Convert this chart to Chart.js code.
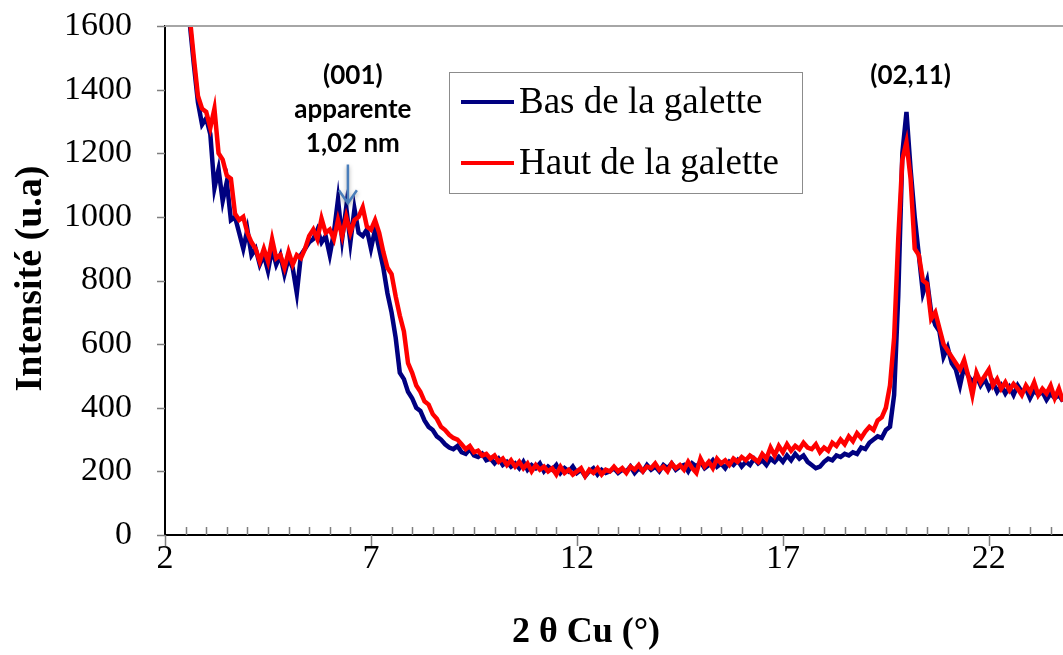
<!DOCTYPE html>
<html>
<head>
<meta charset="utf-8">
<style>
  body { margin: 0; background: #fff; }
  #wrap { width: 1063px; height: 655px; }
</style>
</head>
<body>
<div id="wrap"><canvas id="xrd" width="1063" height="655"></canvas></div>

<script src="https://cdn.jsdelivr.net/npm/chart.js"></script>

<script>
    // 2 theta from 2.5 to 23.8 deg, one reading every 0.1 deg
    var bas = [
        1760, 1610, 1480, 1360, 1290,
        1310, 1260, 1090, 1150, 1050, 1110, 990, 1000, 950, 900,
        960, 880, 900, 850, 880, 830, 900, 850, 880, 820,
        870, 840, 760, 880, 900, 920, 930, 960, 920, 940,
        880, 950, 1055, 930, 1030, 920, 1025, 950, 940, 960,
        900, 960, 900, 840, 760, 700, 620, 510, 490, 450,
        430, 400, 390, 360, 340, 330, 310, 300, 285, 275,
        270, 280, 260, 255, 270, 250, 245, 255, 235, 240,
        225, 240, 220, 230, 215, 225, 210, 230, 205, 220,
        210, 225, 200, 215, 205, 220, 195, 210, 200, 215,
        195, 205, 185, 200, 210, 190, 205, 195, 200, 210,
        195, 205, 200, 215, 195, 210, 200, 220, 205, 215,
        200, 220, 210, 225, 205, 215, 220, 200, 225, 215,
        230, 210, 220, 235, 215, 225, 210, 230, 220, 235,
        215, 230, 220, 240, 225, 235, 220, 240, 230, 245,
        230, 250, 235, 255, 240, 250, 230, 220, 210, 215,
        230, 240, 235, 250, 245, 255, 250, 260, 255, 275,
        270, 290, 300, 310, 305, 330, 340, 440, 750, 1200,
        1330, 1150, 1000, 880, 760, 800, 700, 660, 640, 560,
        590, 540, 520, 470, 530, 500, 480, 500, 470, 490,
        460, 480, 450, 470, 445, 465, 440, 470, 450, 460,
        430, 455, 440, 450, 425, 445, 430, 440, 420
    ];
    var haut = [
        1780, 1630, 1500, 1380, 1340,
        1330, 1280, 1340, 1200, 1180, 1130, 1120, 1010, 990, 1000,
        950, 920, 900, 860, 900, 860, 930, 870, 880, 840,
        890, 850, 880, 870, 900, 940, 960, 930, 995, 950,
        960, 930, 990, 940, 1000, 950, 990, 1000, 1030, 970,
        960, 990, 950, 890, 840, 820, 750, 690, 640, 540,
        510, 470, 450, 420, 410, 380, 365, 340, 330, 315,
        305, 300, 285, 270, 280, 260, 265, 250, 255, 240,
        250, 230, 240, 220, 235, 215, 230, 210, 225, 200,
        220, 205, 215, 200, 210, 190, 215, 195, 205, 190,
        200, 210, 185, 205, 195, 210, 190, 205, 200, 215,
        200, 210, 195, 215, 205, 220, 200, 215, 210, 225,
        205, 215, 200, 225, 210, 220, 205, 230, 210, 195,
        240, 215, 230, 210, 240, 225, 235, 220, 240, 230,
        245, 235, 250, 240, 230, 255, 240, 275, 250, 280,
        260, 285, 265, 280, 270, 290, 275, 270, 285, 260,
        275, 265, 290, 280, 300, 285, 310, 295, 320, 305,
        325, 340, 330, 360, 370, 400, 470, 620, 930, 1180,
        1235, 1120, 900, 880, 800, 790, 680, 700, 650, 600,
        580, 560, 540, 520, 550, 500, 440, 510, 480, 500,
        520, 470, 490, 460, 480, 455, 475, 460, 440, 470,
        450, 480, 440, 460, 445, 470, 430, 460, 420
    ];
    var seriesNames = ['Bas de la galette', 'Haut de la galette'];
    var seriesColors = ['#000080', '#ff0000'];
    var xTicks = [2, 7, 12, 17, 22];
    var yTicks = [0, 200, 400, 600, 800, 1000, 1200, 1400, 1600];

    function toPoints(vals) {
        return vals.map((v, i) => ({ x: (25 + i) / 10, y: v }));
    }

    var serif = '"Liberation Serif", "Times New Roman", serif';
    var sans = 'Lato, "Open Sans", sans-serif';

    var decor = {
        id: 'decor',
        afterDraw(chart) {
            const ctx = chart.ctx;
            const a = chart.chartArea;
            const xs = chart.scales.x, ys = chart.scales.y;
            ctx.save();

            // top frame line
            ctx.strokeStyle = '#a6a6a6';
            ctx.lineWidth = 2;
            ctx.beginPath();
            ctx.moveTo(a.left, a.top);
            ctx.lineTo(a.right, a.top);
            ctx.stroke();

            // tick marks
            ctx.strokeStyle = '#7f7f7f';
            ctx.lineWidth = 1.5;
            ctx.beginPath();
            yTicks.forEach(v => {
                const py = Math.round(ys.getPixelForValue(v)) + 0.5;
                ctx.moveTo(a.left - 8, py);
                ctx.lineTo(a.left, py);
            });
            xTicks.forEach(v => {
                const px = Math.round(xs.getPixelForValue(v)) + 0.5;
                ctx.moveTo(px, a.bottom);
                ctx.lineTo(px, a.bottom + 11);
            });
            for (let k = 4; k <= 47; k++) {
                const v = k / 2;
                if (xTicks.indexOf(v) >= 0) continue;
                const px = Math.round(xs.getPixelForValue(v)) + 0.5;
                if (px > a.right) break;
                ctx.moveTo(px, a.bottom - 8);
                ctx.lineTo(px, a.bottom);
            }
            ctx.stroke();

            // axis titles
            ctx.fillStyle = '#000';
            ctx.textAlign = 'center';
            ctx.textBaseline = 'middle';
            ctx.font = 'bold 36px ' + serif;
            ctx.fillText('2 θ Cu (°)', 586, 633);
            ctx.save();
            ctx.translate(31, (a.top + a.bottom) / 2 - 2);
            ctx.rotate(-Math.PI / 2);
            ctx.font = 'bold 38px ' + serif;
            ctx.fillText('Intensité (u.a)', 0, 0);
            ctx.restore();

            // peak labels
            ctx.font = 'bold 26px ' + sans;
            const lx = xs.getPixelForValue(6.56);
            ctx.fillText('(001)', lx, ys.getPixelForValue(1443));
            ctx.fillText('apparente', lx, ys.getPixelForValue(1336));
            ctx.fillText('1,02 nm', lx, ys.getPixelForValue(1229));
            ctx.fillText('(02,11)', xs.getPixelForValue(20.1), ys.getPixelForValue(1443));

            // arrow on the (001) hump
            const ax = xs.getPixelForValue(6.44);
            const ay1 = ys.getPixelForValue(1165), ay2 = ys.getPixelForValue(1043);
            ctx.save();
            ctx.strokeStyle = '#4a7ebb';
            ctx.lineWidth = 2.5;
            ctx.shadowColor = 'rgba(0,0,0,0.35)';
            ctx.shadowBlur = 4;
            ctx.shadowOffsetY = 2;
            ctx.beginPath();
            ctx.moveTo(ax, ay1);
            ctx.lineTo(ax, ay2);
            ctx.moveTo(ax - 9, ay2 - 13);
            ctx.lineTo(ax, ay2);
            ctx.lineTo(ax + 9, ay2 - 13);
            ctx.stroke();
            ctx.restore();

            // legend box
            ctx.fillStyle = '#fff';
            ctx.fillRect(449, 72, 353, 121);
            ctx.strokeStyle = '#8c8c8c';
            ctx.lineWidth = 1;
            ctx.strokeRect(449.5, 72.5, 353, 121);
            ctx.font = '37px ' + serif;
            ctx.textAlign = 'left';
            seriesNames.forEach((name, i) => {
                const y = 102 + i * 61;
                ctx.strokeStyle = seriesColors[i];
                ctx.lineWidth = 4;
                ctx.beginPath();
                ctx.moveTo(461, y);
                ctx.lineTo(514, y);
                ctx.stroke();
                ctx.fillStyle = '#000';
                ctx.fillText(name, 519, y + 1);
            });

            ctx.restore();
        }
    };

    var xrdChart = new Chart(document.getElementById('xrd'), {
        type: 'line',
        data: {
            datasets: [
                {
                    label: seriesNames[0],
                    data: toPoints(bas),
                    borderColor: seriesColors[0],
                    backgroundColor: seriesColors[0],
                    borderWidth: 4.5,
                    pointRadius: 0,
                    order: 1
                },
                {
                    label: seriesNames[1],
                    data: toPoints(haut),
                    borderColor: seriesColors[1],
                    backgroundColor: seriesColors[1],
                    borderWidth: 4.5,
                    pointRadius: 0,
                    order: 0
                }
            ]
        },
        options: {
            responsive: false,
            animation: false,
            layout: { padding: { top: 26, right: 0, left: 0, bottom: 0 } },
            plugins: {
                legend: { display: false },
                tooltip: { enabled: false }
            },
            scales: {
                x: {
                    type: 'linear',
                    min: 2,
                    max: 23.8,
                    afterBuildTicks: s => { s.ticks = xTicks.map(v => ({ value: v })); },
                    afterFit: s => { s.height = 120; s.paddingRight = 0; },
                    grid: { display: false, drawTicks: false },
                    border: { display: true, color: '#000', width: 2 },
                    ticks: {
                        color: '#000',
                        padding: 4,
                        maxRotation: 0,
                        callback: v => String(v),
                        font: { family: serif, size: 34 }
                    }
                },
                y: {
                    min: 0,
                    max: 1600,
                    afterBuildTicks: s => { s.ticks = yTicks.map(v => ({ value: v })); },
                    afterFit: s => { s.width = 165; s.paddingTop = 0; s.paddingBottom = 0; },
                    grid: { display: false, drawTicks: false },
                    border: { display: true, color: '#000', width: 2 },
                    ticks: {
                        color: '#000',
                        padding: 33,
                        callback: v => String(v),
                        font: { family: serif, size: 34 }
                    }
                }
            }
        },
        plugins: [decor]
    });
</script>
</body>
</html>
